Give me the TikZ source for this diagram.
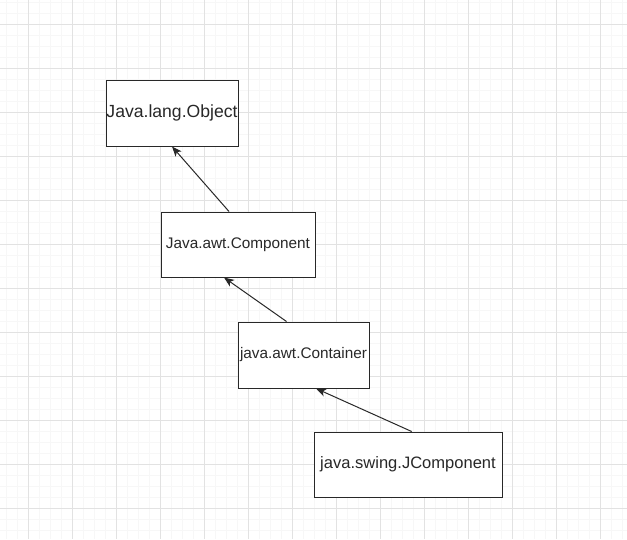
\documentclass[tikz,border=0pt]{standalone}
\usepackage{fontspec}
\setmainfont{Liberation Sans}
\usetikzlibrary{arrows.meta,positioning,calc}
\definecolor{gridminor}{RGB}{247,247,247}
\definecolor{gridmajor}{RGB}{226,226,226}
\definecolor{inkgray}{RGB}{40,40,40}

\begin{document}
\begin{tikzpicture}[x=0.75pt,y=-0.75pt,
    classbox/.style={draw=inkgray,line width=0.75pt,fill=white,rectangle,
      inner sep=0pt,text=inkgray},
    inherit/.style={-{Stealth[length=7.5pt,width=6pt,inset=2pt]},draw=inkgray,line width=0.75pt}]
  \useasboundingbox (0,0) rectangle (627,539);
  % --- background grid ----------------------------------------------------
  \foreach \x in {6.3,17.3,...,627} \draw[gridminor,line width=0.6pt] (\x,0) -- (\x,539);
  \foreach \y in {2.5,13.5,...,539} \draw[gridminor,line width=0.6pt] (0,\y) -- (627,\y);
  \foreach \x in {28.3,72.3,...,627} \draw[gridmajor,line width=0.6pt] (\x,0) -- (\x,539);
  \foreach \y in {24.5,68.5,...,539} \draw[gridmajor,line width=0.6pt] (0,\y) -- (627,\y);

  % --- class boxes ----------------------------------------------------------
  \node[classbox,minimum width=99pt,minimum height=49.5pt,font=\fontsize{13.2}{15}\selectfont]
    (object) at (172,113) {Java.lang.Object};
  \node[classbox,minimum width=115.5pt,minimum height=48.75pt,font=\fontsize{11.5}{14}\selectfont]
    (component) at (238,244.5) {Java.awt.Component};
  \node[classbox,minimum width=98.25pt,minimum height=49.5pt,font=\fontsize{11.5}{14}\selectfont]
    (container) at (303.5,355) {java.awt.Container};
  \node[classbox,minimum width=141pt,minimum height=48.75pt,font=\fontsize{12.4}{15}\selectfont]
    (jcomponent) at (408,464.5) {java.swing.JComponent};

  % --- inheritance arrows ---------------------------------------------------
  \draw[inherit] ([xshift=-6.75pt]component.north) -- (object.south);
  \draw[inherit] ([xshift=-12.75pt]container.north) -- ([xshift=-10.5pt]component.south);
  \draw[inherit] ([xshift=2.75pt]jcomponent.north) -- ([xshift=9.4pt]container.south);
\end{tikzpicture}
\end{document}
